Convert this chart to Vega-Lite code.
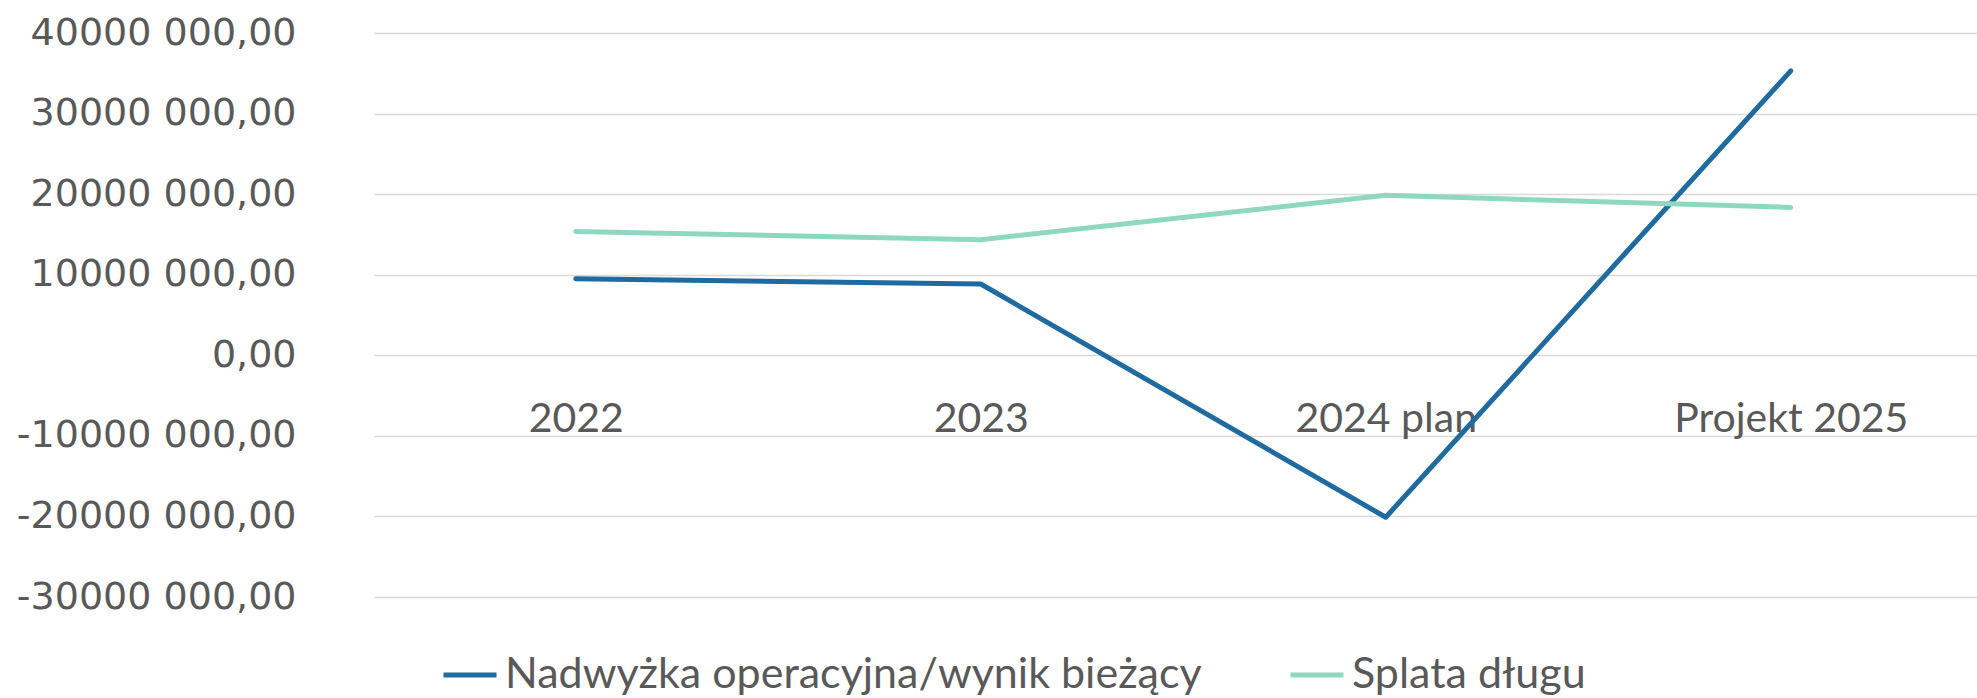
{
  "$schema": "https://vega.github.io/schema/vega-lite/v6.json",
  "autosize": {"type": "none"},
  "padding": {"left": 374, "top": 33, "right": 0, "bottom": 101},
  "width": 1603,
  "height": 564,
  "background": "white",
  "config": {"view": {"stroke": null}},
  "data": {"values": [
    {"rok": "2022", "seria": "Nadwyżka operacyjna/wynik bieżący", "wartosc": 9500000},
    {"rok": "2023", "seria": "Nadwyżka operacyjna/wynik bieżący", "wartosc": 8850000},
    {"rok": "2024 plan", "seria": "Nadwyżka operacyjna/wynik bieżący", "wartosc": -20100000},
    {"rok": "Projekt 2025", "seria": "Nadwyżka operacyjna/wynik bieżący", "wartosc": 35300000},
    {"rok": "2022", "seria": "Splata długu", "wartosc": 15350000},
    {"rok": "2023", "seria": "Splata długu", "wartosc": 14350000},
    {"rok": "2024 plan", "seria": "Splata długu", "wartosc": 19850000},
    {"rok": "Projekt 2025", "seria": "Splata długu", "wartosc": 18350000}
  ]},
  "mark": {"type": "line", "strokeWidth": 5, "strokeCap": "round", "strokeJoin": "round"},
  "encoding": {
    "x": {
      "field": "rok", "type": "nominal", "sort": ["2022", "2023", "2024 plan", "Projekt 2025"],
      "scale": {"type": "point", "padding": 0.479, "align": 0.52},
      "axis": {
        "title": null, "labelAngle": 0, "domain": false, "ticks": false, "tickSize": 0, "grid": false,
        "offset": -241.7, "labelPadding": 76, "labelBaseline": "alphabetic", "labelLimit": 0,
        "labelFont": "Lato", "labelFontSize": 41, "labelColor": "#595959"
      }
    },
    "y": {
      "field": "wartosc", "type": "quantitative",
      "scale": {"domain": [-30000000, 40000000], "nice": false, "zero": false},
      "axis": {
        "title": null, "domain": false, "ticks": false, "tickSize": 0, "labelLimit": 0,
        "values": [-30000000, -20000000, -10000000, 0, 10000000, 20000000, 30000000, 40000000],
        "labelExpr": "datum.value == 0 ? '0,00' : (datum.value < 0 ? '-' : '') + format(abs(datum.value) / 1000, 'd') + ' 000,00'",
        "labelPadding": 78, "labelFont": "DejaVu Sans", "labelFontSize": 38, "labelColor": "#595959",
        "gridColor": "#D9D9D9", "gridWidth": 1.5
      }
    },
    "color": {
      "field": "seria", "type": "nominal",
      "scale": {"domain": ["Nadwyżka operacyjna/wynik bieżący", "Splata długu"], "range": ["#1F6A9E", "#8ED8C0"]},
      "legend": {
        "title": null, "orient": "none", "direction": "horizontal", "legendX": 67, "legendY": 613,
        "symbolType": "stroke", "symbolSize": 2809, "symbolStrokeWidth": 5,
        "labelFont": "Lato", "labelFontSize": 43, "labelColor": "#595959", "labelLimit": 0,
        "labelOffset": 6, "columnPadding": 78
      }
    }
  }
}
